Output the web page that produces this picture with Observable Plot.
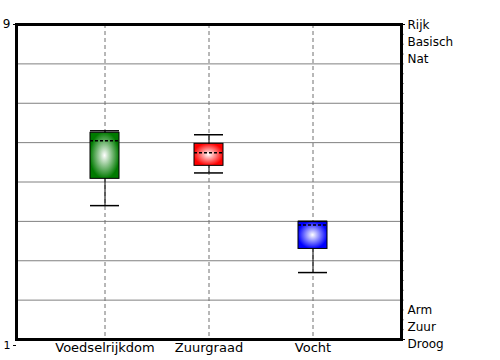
<!DOCTYPE html>
<html>
<head>
<meta charset="utf-8">
<script src="https://cdn.jsdelivr.net/npm/d3@7"></script>
<script src="https://cdn.jsdelivr.net/npm/@observablehq/plot@0.6"></script>
<style>
  html, body { margin: 0; padding: 0; background: #fff; }
  #chart svg { display: block; }
</style>
</head>
<body>
<div id="chart"></div>
<script>
const categories = ["Voedselrijkdom", "Zuurgraad", "Vocht"];
const whiskerLow  = [4.40, 5.23, 2.70];
const boxLow      = [5.08, 5.41, 3.30];
const median      = [6.05, 5.74, 3.91];
const boxHigh     = [6.25, 5.97, 3.99];
const whiskerHigh = [6.30, 6.20, 4.00];
const boxColors   = ["#007a00", "#ff0000", "#0000ff"];
const leftTicks   = [1, 9];
const gridValues  = [2, 3, 4, 5, 6, 7, 8];
const topLabels    = ["Rijk", "Basisch", "Nat"];
const bottomLabels = ["Arm", "Zuur", "Droog"];

const data = categories.map((c, i) => ({
  cat: c, wl: whiskerLow[i], bl: boxLow[i], med: median[i], bh: boxHigh[i], wh: whiskerHigh[i], i
}));

const font = "DejaVu Sans";

const boxes = data.map(d => Plot.barY([d], {
  x: "cat", y1: "bl", y2: "bh", fill: `url(#grad${d.i})`, stroke: "black", strokeWidth: 1
}));

const svg = Plot.plot({
  width: 500,
  height: 360,
  marginLeft: 16,
  marginRight: 99,
  marginTop: 24,
  marginBottom: 21,
  style: { fontFamily: font, fontSize: "12px", background: "#fff", color: "black" },
  x: { domain: categories, paddingInner: 0.72, paddingOuter: 0.705, label: null },
  y: { domain: [1, 9], label: null },
  marks: [
    Plot.ruleY(gridValues, { stroke: "#808080", strokeWidth: 1 }),
    Plot.ruleX(categories, { x: d => d, stroke: "#707070", strokeWidth: 1, strokeDasharray: "4,3" }),
    Plot.ruleX(data, { x: "cat", y1: "wl", y2: "wh", stroke: "black", strokeWidth: 1 }),
    ...boxes,
    Plot.tickY(data, { x: "cat", y: "med", stroke: "black", strokeWidth: 1.5, strokeDasharray: "3,2" }),
    Plot.tickY(data, { x: "cat", y: "wh", stroke: "black", strokeWidth: 1.5 }),
    Plot.tickY(data, { x: "cat", y: "wl", stroke: "black", strokeWidth: 1.5 }),
    Plot.axisX({ tickSize: 0, tickPadding: 3, fontSize: 13, label: null }),
    Plot.axisY({ anchor: "left", ticks: [9], tickSize: 3, tickPadding: 3, tickFormat: d => String(d), label: null, fontSize: 12 }),
    Plot.axisY({ anchor: "left", ticks: [1], tickSize: 3, tickPadding: 3, dy: 6, tickFormat: d => String(d), label: null, fontSize: 11 }),
    Plot.axisY({ anchor: "right", ticks: d3.range(1, 9.001, 0.25), tickSize: 2, stroke: "#999", tickFormat: () => "", label: null }),
    Plot.axisY({ anchor: "right", ticks: leftTicks, tickSize: 3, tickFormat: () => "", label: null }),
    Plot.text([topLabels.join("\n")], { frameAnchor: "top-right", dx: 6, dy: -7, textAnchor: "start", lineAnchor: "top", lineHeight: 1.4, fontSize: 12, text: d => d }),
    Plot.text([bottomLabels.join("\n")], { frameAnchor: "bottom-right", dx: 6, dy: 8, textAnchor: "start", lineAnchor: "bottom", lineHeight: 1.4, fontSize: 12, text: d => d }),
    Plot.frame({ stroke: "black", strokeWidth: 3 })
  ]
});

const defs = d3.select(svg).insert("defs", ":first-child");
boxColors.forEach((c, i) => {
  const g = defs.append("radialGradient").attr("id", `grad${i}`)
    .attr("cx", "50%").attr("cy", "50%").attr("r", "60%");
  g.append("stop").attr("offset", "0%").attr("stop-color", "#ffffff");
  g.append("stop").attr("offset", "85%").attr("stop-color", c);
  g.append("stop").attr("offset", "100%").attr("stop-color", c);
});

document.getElementById("chart").appendChild(svg);
</script>
</body>
</html>
